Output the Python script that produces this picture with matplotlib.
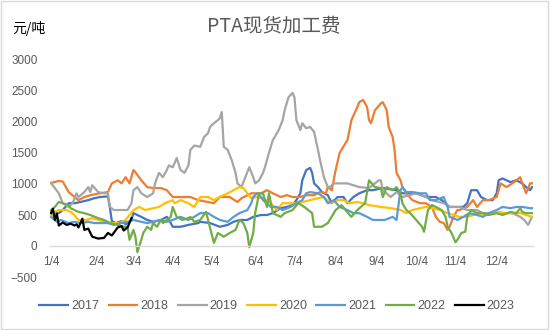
import matplotlib
matplotlib.use("Agg")
import matplotlib.pyplot as plt
from matplotlib.lines import Line2D
from matplotlib.patches import Rectangle

plt.rcParams['font.family'] = ['Noto Sans CJK SC', 'DejaVu Sans']

# x positions are trading-day indices counted from the first session of the year
tick_days = [0, 23, 42, 62, 82, 104, 124, 145, 166, 186, 206, 227]
tick_labels = ["1/4", "2/4", "3/4", "4/4", "5/4", "6/4", "7/4", "8/4", "9/4", "10/4", "11/4", "12/4"]

days_2017 = [0, 4, 6, 9, 12, 15, 19, 22, 25, 29, 30, 31, 33, 36, 38, 41, 42, 46, 49, 52,
             56, 59, 61, 62, 66, 70, 75, 76, 81, 86, 90, 93, 96, 100, 103, 107, 110, 113, 117, 120,
             123, 125, 127, 128, 130, 132, 133, 134, 136, 138, 141, 143, 146, 149, 151, 154, 157, 161, 164, 169,
             176, 179, 186, 191, 196, 199, 203, 207, 210, 212, 214, 217, 219, 222, 225, 227, 228, 230, 234, 237,
             240, 242, 244, 245]
fee_2017 = [530, 530, 580, 690, 690, 710, 740, 770, 790, 800, 620, 400, 370, 400, 350, 420, 530, 470, 420, 390,
            420, 470, 370, 310, 310, 340, 370, 390, 370, 310, 340, 390, 420, 420, 470, 500, 500, 530, 610, 630,
            660, 740, 850, 1060, 1225, 1260, 1180, 1010, 950, 870, 820, 690, 790, 790, 690, 790, 850, 900, 900, 935,
            900, 850, 850, 790, 790, 740, 630, 630, 630, 690, 900, 900, 790, 740, 740, 850, 1060, 1090, 1030, 1060,
            1010, 950, 900, 950]

days_2018 = [0, 4, 6, 9, 12, 14, 17, 20, 25, 29, 31, 34, 36, 38, 40, 42, 43, 46, 49, 52,
             56, 59, 62, 66, 71, 75, 83, 86, 91, 95, 97, 102, 107, 110, 113, 117, 120, 123, 127, 130,
             134, 137, 140, 141, 143, 145, 147, 151, 153, 156, 157, 159, 161, 162, 163, 165, 168, 169, 171, 172,
             174, 175, 176, 178, 179, 181, 184, 188, 191, 194, 196, 198, 200, 202, 203, 205, 207, 208, 212, 215,
             217, 220, 223, 227, 229, 232, 235, 239, 240, 242, 244, 245]
fee_2018 = [1016, 1050, 1040, 870, 790, 740, 790, 820, 850, 870, 1010, 1060, 1010, 1110, 1010, 1225, 1190, 1060, 950, 935,
            935, 900, 790, 790, 790, 740, 690, 790, 790, 710, 770, 850, 850, 900, 850, 790, 820, 790, 790, 820,
            820, 870, 850, 950, 900, 1225, 1500, 1710, 2030, 2240, 2320, 2355, 2240, 2030, 1980, 2190, 2300, 2320, 2190, 1920,
            1760, 1550, 1180, 1060, 950, 850, 740, 690, 690, 630, 470, 390, 370, 260, 310, 470, 580, 580, 630, 740,
            630, 740, 740, 790, 1010, 950, 1010, 1110, 1010, 850, 1010, 1010]

days_2019 = [0, 4, 6, 9, 11, 13, 14, 17, 19, 20, 21, 24, 27, 29, 30, 32, 36, 39, 41, 42,
             44, 46, 49, 52, 53, 55, 57, 59, 60, 62, 63, 64, 66, 68, 70, 71, 73, 76, 78, 80,
             81, 83, 85, 86, 87, 88, 90, 92, 94, 95, 97, 99, 101, 103, 104, 106, 108, 109, 111, 113,
             114, 116, 118, 119, 121, 123, 124, 125, 127, 128, 130, 132, 134, 136, 137, 139, 141, 142, 144, 147,
             151, 154, 157, 162, 167, 168, 169, 173, 176, 179, 186, 191, 194, 200, 203, 208, 212, 217, 220, 225,
             230, 235, 239, 241, 243, 245]
fee_2019 = [1016, 850, 690, 630, 690, 850, 790, 870, 950, 870, 980, 870, 850, 850, 630, 580, 580, 580, 690, 900,
            950, 850, 790, 850, 1010, 1180, 1110, 1225, 1300, 1270, 1340, 1420, 1225, 1180, 1300, 1550, 1620, 1600, 1760, 1820,
            1920, 1980, 2030, 2060, 2160, 1600, 1550, 1390, 1180, 1010, 950, 1110, 1270, 1110, 1010, 1060, 1180, 1270, 1500, 1710,
            1760, 1870, 2030, 2190, 2400, 2470, 2400, 2030, 1870, 1980, 1900, 1920, 1840, 1550, 1390, 1110, 950, 950, 1010, 1010,
            1010, 980, 950, 935, 1060, 1060, 900, 790, 870, 790, 850, 790, 740, 690, 630, 630, 580, 580, 530, 530,
            530, 530, 470, 420, 340, 470]

days_2020 = [0, 2, 4, 8, 11, 14, 18, 21, 24, 28, 31, 35, 38, 42, 45, 48, 52, 55, 58, 62,
             63, 66, 70, 73, 76, 80, 83, 86, 90, 93, 96, 98, 100, 102, 105, 108, 112, 115, 118, 122,
             125, 128, 132, 136, 139, 142, 146, 149, 152, 156, 159, 162, 168, 173, 178, 181, 184, 188, 191, 194,
             198, 202, 205, 208, 212, 215, 218, 222, 225, 228, 232, 235, 239, 242, 245]
fee_2020 = [470, 550, 580, 580, 530, 420, 420, 450, 420, 390, 370, 370, 420, 580, 630, 580, 610, 630, 690, 740,
            690, 740, 690, 630, 790, 790, 740, 790, 850, 900, 950, 935, 850, 770, 790, 770, 690, 580, 690, 690,
            690, 710, 740, 770, 790, 690, 740, 740, 690, 710, 690, 660, 630, 610, 580, 530, 580, 610, 630, 610,
            580, 530, 500, 470, 470, 500, 530, 500, 530, 550, 530, 530, 530, 500, 470]

days_2021 = [0, 3, 5, 9, 12, 15, 19, 22, 25, 29, 32, 36, 39, 42, 46, 49, 52, 56, 59, 62,
             66, 70, 73, 76, 80, 83, 86, 90, 93, 96, 100, 102, 103, 105, 107, 108, 112, 115, 118, 122,
             125, 128, 130, 132, 136, 139, 141, 144, 147, 151, 154, 157, 161, 164, 168, 170, 174, 176, 178, 179,
             181, 184, 188, 191, 193, 196, 200, 202, 203, 207, 210, 213, 217, 220, 223, 227, 230, 234, 237, 240,
             244, 245]
fee_2021 = [470, 390, 420, 370, 390, 370, 390, 370, 370, 370, 340, 370, 390, 420, 390, 370, 390, 420, 390, 420,
            470, 420, 470, 530, 530, 470, 420, 390, 470, 530, 580, 690, 790, 850, 790, 740, 630, 630, 580, 630,
            690, 740, 850, 870, 850, 790, 690, 740, 630, 580, 530, 530, 470, 420, 420, 420, 470, 420, 900, 950,
            870, 870, 850, 850, 740, 740, 790, 630, 470, 420, 470, 530, 500, 470, 530, 580, 630, 610, 630, 630,
            610, 610]

days_2022 = [0, 2, 4, 6, 9, 10, 14, 17, 20, 24, 27, 30, 34, 37, 39, 40, 42, 43, 44, 46,
             47, 49, 51, 52, 54, 56, 57, 59, 61, 62, 64, 67, 70, 71, 73, 76, 79, 80, 83, 85,
             88, 91, 94, 96, 98, 100, 101, 103, 104, 106, 108, 110, 111, 113, 117, 119, 123, 126, 129, 133,
             134, 138, 141, 145, 148, 150, 153, 156, 160, 162, 165, 168, 169, 171, 174, 176, 178, 179, 181, 183,
             186, 189, 190, 192, 194, 196, 199, 201, 202, 204, 206, 207, 209, 211, 212, 214, 217, 220, 223, 227,
             230, 234, 237, 239, 240, 242, 245]
fee_2022 = [580, 630, 710, 690, 660, 610, 550, 530, 500, 450, 420, 370, 340, 310, 310, 100, 260, 150, -100, 100,
            210, 310, 260, 370, 310, 420, 370, 420, 470, 630, 470, 420, 450, 470, 390, 420, 550, 420, 50, 210,
            150, 210, 260, 420, 370, 210, -20, 210, 530, 850, 850, 630, 850, 530, 470, 530, 580, 690, 630, 530,
            310, 310, 370, 580, 660, 580, 470, 580, 690, 1060, 950, 935, 790, 950, 900, 950, 850, 690, 580, 530,
            420, 310, 230, 580, 660, 630, 580, 470, 310, 210, 60, 100, 210, 230, 470, 580, 530, 530, 500, 530,
            500, 550, 530, 610, 550, 530, 530]

days_2023 = [0, 1, 2, 3, 4, 6, 8, 10, 12, 13, 14, 16, 17, 19, 21, 24, 27, 29, 31, 34, 36, 37, 39, 41]
fee_2023 = [530, 600, 420, 520, 330, 380, 340, 360, 330, 350, 300, 440, 260, 280, 150, 120, 130, 210, 170, 300,
            320, 250, 300, 450]

series = [
    ("2017", days_2017, fee_2017, "#4472C4"),
    ("2018", days_2018, fee_2018, "#ED7D31"),
    ("2019", days_2019, fee_2019, "#A5A5A5"),
    ("2020", days_2020, fee_2020, "#FFC000"),
    ("2021", days_2021, fee_2021, "#5B9BD5"),
    ("2022", days_2022, fee_2022, "#70AD47"),
    ("2023", days_2023, fee_2023, "#000000"),
]

fig = plt.figure(figsize=(5.5, 3.3), dpi=100)
ax = fig.add_axes([50 / 550, 1 - 277 / 330, 483 / 550, 217 / 330])

for name, d, v, c in series:
    ax.plot(d, v, color=c, lw=1.6, label=name, solid_joinstyle="round")

ax.set_xlim(-0.5, 245.5)
ax.set_ylim(-500, 3000)
ax.set_yticks(range(-500, 3001, 500))
ax.set_xticks(tick_days)
ax.set_xticklabels(tick_labels)

for s in ("top", "right", "left"):
    ax.spines[s].set_visible(False)
ax.spines["bottom"].set_position(("data", 0))
ax.spines["bottom"].set_color("#D9D9D9")
ax.spines["bottom"].set_linewidth(1.0)
ax.tick_params(axis="both", length=0, labelsize=8.5, labelcolor="#595959")
ax.tick_params(axis="x", pad=7)
ax.tick_params(axis="y", pad=9)
for lab in ax.get_xticklabels() + ax.get_yticklabels():
    lab.set_fontfamily(["Liberation Sans", "DejaVu Sans"])

fig.text(274 / 550, 1 - 27 / 330, "PTA现货加工费", ha="center", va="center",
         fontsize=14, color="#595959")
fig.text(12 / 550, 1 - 29 / 330, "元/吨", ha="left", va="center", fontsize=10, color="#000000")

handles = [Line2D([0], [0], color=c, lw=1.6) for _, _, _, c in series]
leg = fig.legend(handles, [s[0] for s in series], loc="center", ncol=7,
                 bbox_to_anchor=(277 / 550, 1 - 306 / 330), frameon=False,
                 handlelength=2.3, handletextpad=0.25, columnspacing=0.75,
                 prop={"family": ["Liberation Sans", "DejaVu Sans"], "size": 9})
for t in leg.get_texts():
    t.set_color("#595959")

fig.patches.append(Rectangle((0.002, 0.003), 0.995, 0.994, transform=fig.transFigure,
                             fill=False, edgecolor="#D9D9D9", lw=1.0))

fig.savefig("out.png", dpi=100)
